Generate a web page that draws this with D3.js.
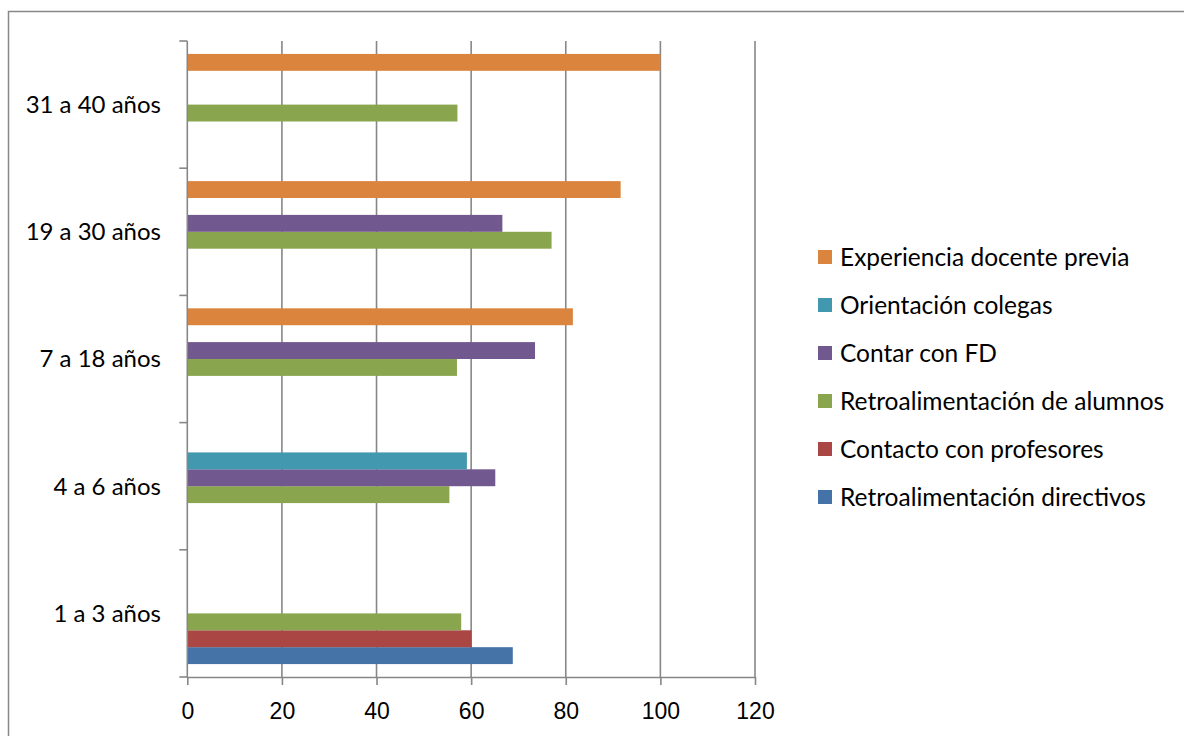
<!DOCTYPE html>
<html>
<head>
<meta charset="utf-8">
<script src="https://cdn.jsdelivr.net/npm/d3@7"></script>
<style>
  html, body { margin: 0; padding: 0; background: #fff; }
  svg { display: block; font-family: Lato, "Open Sans", sans-serif; }
</style>
</head>
<body>
<svg id="chart" width="1184" height="736"></svg>
<script>
// Categories, bottom to top
const categories = ["1 a 3 años", "4 a 6 años", "7 a 18 años", "19 a 30 años", "31 a 40 años"];

// Series, bottom to top inside each group
const seriesNames = [
  "Retroalimentación directivos",
  "Contacto con profesores",
  "Retroalimentación de alumnos",
  "Contar con FD",
  "Orientación colegas",
  "Experiencia docente previa"
];
const seriesColors = ["#4572A7", "#AA4643", "#89A54E", "#71588F", "#4198AF", "#DB843D"];

// Values per series, in category order (null = no bar)
const retroDirectivos = [68.8, null, null, null, null];
const contactoProfesores = [60.1, null, null, null, null];
const retroAlumnos = [57.9, 55.4, 57.0, 77.0, 57.1];
const contarFD = [null, 65.1, 73.5, 66.6, null];
const orientacionColegas = [null, 59.1, null, null, null];
const experienciaPrevia = [null, null, 81.5, 91.6, 100];

const seriesValues = [retroDirectivos, contactoProfesores, retroAlumnos, contarFD, orientacionColegas, experienciaPrevia];

const xTicks = [0, 20, 40, 60, 80, 100, 120];

const svg = d3.select("#chart");
const grey = "#878787";

// outer chart frame
svg.append("rect")
  .attr("x", 8.5).attr("y", 11.5)
  .attr("width", 1200).attr("height", 800)
  .attr("fill", "none").attr("stroke", grey).attr("stroke-width", 1.5);

const plot = { left: 187.3, right: 755, top: 41, bottom: 677 };

const x = d3.scaleLinear().domain([0, 120]).range([plot.left, plot.right]);
const y = d3.scaleBand().domain(categories).range([plot.bottom, plot.top]).paddingInner(0).paddingOuter(0);
const ySeries = d3.scaleBand().domain(d3.range(seriesNames.length))
  .range([y.bandwidth(), 0]).paddingInner(0).paddingOuter(0.765);

// vertical gridlines
svg.append("g").selectAll("line")
  .data(xTicks.filter(t => t > 0))
  .join("line")
  .attr("x1", d => x(d)).attr("x2", d => x(d))
  .attr("y1", plot.top).attr("y2", plot.bottom)
  .attr("stroke", grey).attr("stroke-width", 1.6);

// bars
const groups = svg.append("g").selectAll("g")
  .data(categories)
  .join("g")
  .attr("transform", d => `translate(0,${y(d)})`);

groups.selectAll("rect")
  .data((c, ci) => seriesValues.map((vals, si) => ({ si, v: vals[ci] })).filter(d => d.v != null))
  .join("rect")
  .attr("x", x(0))
  .attr("y", d => ySeries(d.si))
  .attr("width", d => x(d.v) - x(0))
  .attr("height", ySeries.bandwidth())
  .attr("fill", d => seriesColors[d.si]);

// x axis
const xAxis = svg.append("g")
  .attr("transform", `translate(0,${plot.bottom})`)
  .call(d3.axisBottom(x).tickValues(xTicks).tickSize(8).tickPadding(18).tickSizeOuter(0));
xAxis.select(".domain").attr("stroke", grey).attr("stroke-width", 1.6);
xAxis.selectAll(".tick line").attr("stroke", grey).attr("stroke-width", 1.6);
xAxis.selectAll(".tick text").attr("fill", "#000").style("font-size", "23px").attr("dy", "0.71em");

// y axis
const yTickPos = d3.range(categories.length + 1).map(i => plot.bottom - i * y.step());
const yAxisG = svg.append("g");
yAxisG.append("line")
  .attr("x1", plot.left).attr("x2", plot.left)
  .attr("y1", plot.top).attr("y2", plot.bottom)
  .attr("stroke", grey).attr("stroke-width", 1.6);
yAxisG.selectAll("line.tk")
  .data(yTickPos)
  .join("line").attr("class", "tk")
  .attr("x1", plot.left - 8).attr("x2", plot.left)
  .attr("y1", d => d).attr("y2", d => d)
  .attr("stroke", grey).attr("stroke-width", 1.6);
yAxisG.selectAll("text")
  .data(categories)
  .join("text")
  .attr("x", 161)
  .attr("y", d => y(d) + y.bandwidth() / 2)
  .attr("dy", "0.35em")
  .attr("text-anchor", "end")
  .style("font-size", "24px")
  .text(d => d);

// legend, top entry is the last series
const legendOrder = d3.range(seriesNames.length).reverse();
const legend = svg.append("g").selectAll("g")
  .data(legendOrder)
  .join("g")
  .attr("transform", (d, i) => `translate(818,${257 + i * 48})`);
legend.append("rect")
  .attr("x", 0).attr("y", -7)
  .attr("width", 14).attr("height", 14)
  .attr("fill", d => seriesColors[d]);
legend.append("text")
  .attr("x", 22).attr("y", 0).attr("dy", "0.35em")
  .style("font-size", "24.5px")
  .text(d => seriesNames[d]);
</script>
</body>
</html>
